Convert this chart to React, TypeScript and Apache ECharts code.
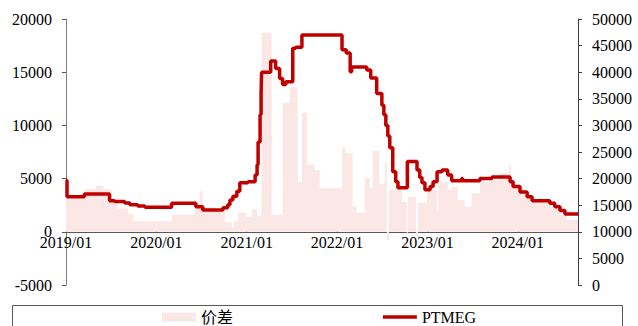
import React, { useEffect, useRef } from 'react';
import * as echarts from 'echarts';

// PTMEG price (right axis), value in effect from each date onward
const ptmegDates = [
  '2019-01-01', '2019-01-05', '2019-03-16', '2019-06-26', '2019-07-16', '2019-08-26', '2019-09-16',
  '2019-10-18', '2019-11-16', '2020-03-03', '2020-06-09', '2020-07-07', '2020-09-27', '2020-10-05',
  '2020-10-16', '2020-10-25', '2020-11-06', '2020-11-22', '2020-12-04', '2021-01-06', '2021-02-04',
  '2021-02-12', '2021-02-16', '2021-02-24', '2021-02-28', '2021-03-02', '2021-04-08', '2021-04-28',
  '2021-05-14', '2021-05-26', '2021-06-08', '2021-07-06', '2021-07-18', '2021-08-12', '2022-01-21',
  '2022-02-07', '2022-02-23', '2022-03-01', '2022-05-01', '2022-05-17', '2022-06-10', '2022-07-01',
  '2022-07-09', '2022-07-17', '2022-07-25', '2022-08-02', '2022-08-14', '2022-08-26', '2022-09-04',
  '2022-10-12', '2022-11-20', '2022-12-01', '2022-12-10', '2022-12-22', '2023-01-12', '2023-01-24',
  '2023-02-09', '2023-03-01', '2023-03-24', '2023-04-09', '2023-05-19', '2023-05-23', '2023-08-01',
  '2023-09-19', '2023-12-01', '2023-12-13', '2024-01-10', '2024-02-08', '2024-02-28', '2024-05-10',
  '2024-05-30', '2024-06-20', '2024-07-10', '2024-09-01',
];
const ptmegValues = [
  19700, 16600, 17100, 15850, 15700, 15400, 15100,
  14850, 14600, 15350, 14700, 14100, 14500, 14500,
  15100, 16000, 16700, 17600, 19200, 19400, 20700,
  22600, 26900, 32000, 36000, 40000, 42100, 40700,
  38800, 37700, 38200, 44500, 44700, 47000, 44200,
  43600, 40100, 41000, 40400, 38900, 36000, 33800,
  32000, 30000, 28000, 25800, 21300, 19400, 18300,
  23200, 21600, 20200, 19200, 17900, 18500, 19400,
  21300, 21600, 20700, 19600, 20000, 19600, 20000,
  20300, 19400, 18500, 17500, 16600, 15850, 15350,
  14700, 14000, 13350, 13350,
];

// 价差 spread (left axis), value in effect from each date onward
const spreadDates = [
  '2019-01-01', '2019-03-16', '2019-05-02', '2019-06-02', '2019-07-04', '2019-07-28', '2019-09-08',
  '2019-09-28', '2020-03-03', '2020-06-05', '2020-06-25', '2020-07-07', '2020-08-21', '2020-10-05',
  '2020-11-02', '2020-11-10', '2020-11-26', '2020-12-28', '2021-01-22', '2021-02-12', '2021-03-02',
  '2021-04-12', '2021-05-26', '2021-06-24', '2021-07-26', '2021-08-12', '2021-09-01', '2021-10-03',
  '2021-10-23', '2022-01-21', '2022-02-03', '2022-03-05', '2022-03-21', '2022-04-23', '2022-05-13',
  '2022-05-25', '2022-06-20', '2022-07-13', '2022-07-21', '2022-07-29', '2022-08-22', '2022-09-20',
  '2022-10-10', '2022-10-14', '2022-11-16', '2022-11-24', '2022-12-30', '2023-02-09', '2023-02-14',
  '2023-03-24', '2023-04-09', '2023-05-03', '2023-06-01', '2023-06-29', '2023-08-01', '2023-09-11',
  '2023-10-21', '2023-11-27', '2023-12-05', '2023-12-21', '2024-01-23', '2024-02-20', '2024-05-22',
  '2024-06-20', '2024-07-18', '2024-09-01',
];
const spreadValues = [
  3300, 4000, 4300, 4000, 3000, 2200, 1700,
  1000, 1600, 2700, 3800, 2300, 1900, 900,
  400, 1000, 1800, 1400, 2100, 1500, 18700,
  1600, 12100, 13600, 4700, 11200, 6300, 5800,
  4100, 7900, 7400, 2350, 1800, 5100, 4100,
  7600, 4500, 6500, -800, 3900, 4200, 2800,
  -200, 3300, -500, 2700, 3950, 2100, 4700,
  3950, 4200, 3000, 2350, 3650, 4700, 4900,
  5500, 6300, 4900, 4100, 3500, 2800, 2200,
  1600, 1100, 1100,
];

const xStart = '2019-01-01';
const xEnd = '2024-09-01';
const leftAxis = { min: -5000, max: 20000, interval: 5000 };
const rightAxis = { min: 0, max: 50000, interval: 5000 };

const SERIF = "'Liberation Serif', 'Noto Sans CJK SC', serif";
const GRID_TOP = 19;
const GRID_BOTTOM = 41;
const CHART_H = 326;

function toYear(s: string): number {
  const [y, m, d] = s.split('-').map(Number);
  const start = Date.UTC(y, 0, 1);
  const end = Date.UTC(y + 1, 0, 1);
  return y + (Date.UTC(y, m - 1, d) - start) / (end - start);
}

export default function App() {
  const ref = useRef<HTMLDivElement>(null);
  useEffect(() => {
    if (!ref.current) return;
    const chart = echarts.init(ref.current, null, { renderer: 'svg' });
    const ptmeg = ptmegDates.map((d, i) => [toYear(d), ptmegValues[i]]);
    const spread = spreadDates.map((d, i) => [toYear(d), spreadValues[i]]);
    const labelStyle = { fontFamily: SERIF, fontSize: 16, color: '#000' };
    const gridH = CHART_H - GRID_TOP - GRID_BOTTOM;
    // distance from bottom edge of grid to the left axis' zero line
    const zeroOffset = (gridH * (0 - leftAxis.min)) / (leftAxis.max - leftAxis.min);
    chart.setOption({
      animation: false,
      grid: { left: 66, right: 60, top: GRID_TOP, bottom: GRID_BOTTOM, containLabel: false },
      legend: {
        data: [
          { name: '价差', icon: 'rect' },
          { name: 'PTMEG', icon: 'path://M0 0H100V10H0Z' },
        ],
        left: 'center',
        top: 309,
        padding: 0,
        itemGap: 150,
        itemWidth: 34,
        itemHeight: 9,
        textStyle: { fontFamily: SERIF, fontSize: 16, color: '#000' },
      },
      graphic: [
        {
          type: 'rect',
          shape: { x: 12.5, y: 305.5, width: 610, height: 40 },
          style: { fill: 'none', stroke: '#595959', lineWidth: 1 },
          silent: true,
        },
      ],
      xAxis: {
        type: 'value',
        min: toYear(xStart),
        max: toYear(xEnd),
        interval: 1,
        position: 'bottom',
        offset: -zeroOffset,
        axisLine: { show: true, onZero: false, lineStyle: { color: '#595959', width: 1 } },
        axisTick: { show: true, inside: true, length: 4, lineStyle: { color: '#595959' } },
        axisLabel: {
          ...labelStyle,
          margin: 3,
          showMaxLabel: false,
          formatter: (v: number) => (Math.abs(v - Math.round(v)) < 1e-6 ? `${Math.round(v)}/01` : ''),
        },
        splitLine: { show: false },
      },
      yAxis: [
        {
          type: 'value',
          position: 'left',
          ...leftAxis,
          axisLine: { show: true, lineStyle: { color: '#808080', width: 1 } },
          axisTick: { show: true, inside: false, length: 4, lineStyle: { color: '#595959' } },
          axisLabel: { ...labelStyle, margin: 14, formatter: (v: number) => String(v) },
          splitLine: { show: false },
        },
        {
          type: 'value',
          position: 'right',
          ...rightAxis,
          axisLine: { show: true, lineStyle: { color: '#404040', width: 1 } },
          axisTick: { show: true, inside: false, length: 4, lineStyle: { color: '#404040' } },
          axisLabel: { ...labelStyle, margin: 14, formatter: (v: number) => String(v) },
          splitLine: { show: false },
        },
      ],
      series: [
        {
          name: '价差',
          type: 'line',
          yAxisIndex: 0,
          step: 'end',
          symbol: 'none',
          data: spread,
          lineStyle: { width: 0, opacity: 0 },
          itemStyle: { color: '#FBE7E5' },
          areaStyle: { color: '#FBE7E5', opacity: 1 },
          z: 1,
        },
        {
          name: 'PTMEG',
          type: 'line',
          yAxisIndex: 1,
          step: 'end',
          symbol: 'none',
          data: ptmeg,
          lineStyle: { width: 3.5, color: '#C00000' },
          itemStyle: { color: '#C00000' },
          z: 3,
        },
      ],
    });
    return () => chart.dispose();
  }, []);
  return (
    <div
      ref={ref}
      style={{ position: 'fixed', left: 0, top: 0, width: 638, height: 326, background: '#fff' }}
    />
  );
}
